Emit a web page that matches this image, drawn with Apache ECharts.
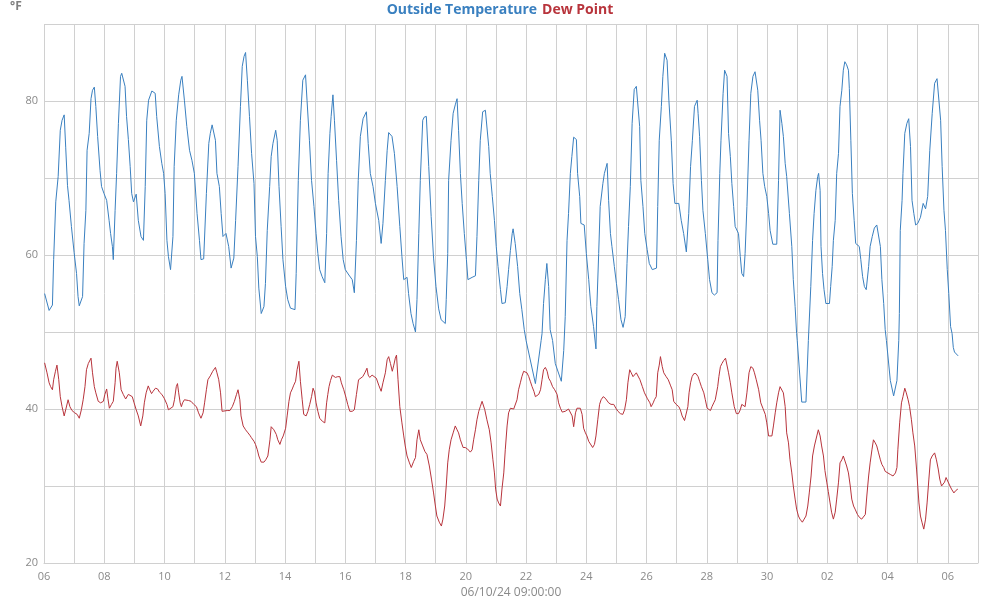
<!DOCTYPE html>
<html><head><meta charset="utf-8">
<script src="https://cdn.jsdelivr.net/npm/echarts@6/dist/echarts.min.js"></script>
<style>html,body{margin:0;padding:0;background:#fff}#c{width:1000px;height:600px}</style>
</head><body><div id="c"></div>
<script>
// x = days since first tick; labels every 2 days
const dayLabels = ['06','08','10','12','14','16','18','20','22','24','26','28','30','02','04','06'];
const yTicks = [20, 40, 60, 80];
const xAxisTitle = '06/10/24 09:00:00';
const unitLabel = '°F';
const seriesNames = ['Outside Temperature', 'Dew Point'];

const outsideTemp = [
[0.02,55.0],[0.17,52.8],[0.28,53.5],[0.32,59.4],[0.39,66.9],[0.47,70.2],[0.54,76.2],[0.6,77.5],[0.67,78.2],[0.72,74],[0.78,69],[0.83,67.1],[0.91,63.7],
[1.0,60.3],[1.08,57.6],[1.13,54.6],[1.17,53.4],[1.28,54.6],[1.33,61.5],[1.39,65.8],[1.43,73.6],[1.5,75.8],[1.56,80.3],[1.61,81.4],[1.67,81.8],[1.72,79.3],[1.78,75.4],[1.86,71],[1.91,68.9],[1.99,68],
[2.08,67.1],[2.16,64.5],[2.21,62.8],[2.27,61.1],[2.3,59.4],[2.36,65.8],[2.41,70.6],[2.47,77.1],[2.54,83.2],[2.58,83.6],[2.69,81.9],[2.74,78],[2.8,75],[2.86,71.5],[2.91,68],[2.97,66.9],
[3.06,67.9],[3.13,64.5],[3.22,62.4],[3.3,61.9],[3.36,68.9],[3.41,77.5],[3.47,80.1],[3.58,81.3],[3.69,81],[3.74,78],[3.83,74.1],[3.91,71.9],[3.97,70.6],
[4.02,68],[4.08,61.9],[4.13,59.8],[4.2,58.1],[4.28,62.4],[4.32,71.5],[4.39,77.5],[4.47,80.8],[4.54,82.7],[4.58,83.2],[4.66,80.1],[4.74,76.7],[4.83,73.6],[4.91,72.3],[4.99,70.6],
[5.08,65.4],[5.16,61.9],[5.21,59.4],[5.3,59.5],[5.39,68],[5.47,74.5],[5.52,75.8],[5.58,76.9],[5.69,74.9],[5.74,70.6],[5.82,68.9],[5.88,65.4],[5.94,62.4],
[6.04,62.8],[6.13,61.1],[6.21,58.3],[6.3,59.6],[6.36,64.5],[6.44,71.5],[6.52,79.3],[6.58,84.5],[6.64,85.8],[6.69,86.3],[6.75,82.7],[6.82,78],[6.89,73.2],[6.97,69.3],
[7.02,62.4],[7.08,59.8],[7.13,55.7],[7.21,52.4],[7.3,53.3],[7.35,56.3],[7.41,63.2],[7.49,68.9],[7.54,72.8],[7.6,74.5],[7.69,76.2],[7.74,74.9],[7.8,68.9],[7.87,63.7],[7.93,59.4],
[8.02,55.9],[8.09,54.2],[8.18,53.1],[8.33,52.9],[8.37,57.6],[8.44,69.7],[8.51,77.5],[8.59,82.7],[8.68,83.4],[8.73,80.1],[8.81,74.9],[8.88,69.7],[8.96,66.3],
[9.03,62.8],[9.09,60.2],[9.15,58.1],[9.23,57.2],[9.32,56.4],[9.38,62.8],[9.43,70.6],[9.49,75.8],[9.53,78],[9.59,80.8],[9.64,77.5],[9.71,72.3],[9.78,67.1],[9.86,62.4],[9.93,59.4],
[10.0,58.1],[10.12,57.4],[10.23,56.8],[10.3,55.1],[10.37,61.9],[10.43,69.7],[10.5,75.4],[10.59,77.7],[10.7,78.6],[10.76,74.5],[10.83,70.6],[10.92,68.9],
[11.0,66.7],[11.11,64.5],[11.19,61.5],[11.25,64.1],[11.33,69.7],[11.39,73.6],[11.44,75.9],[11.55,75.4],[11.63,73.2],[11.72,68.9],[11.81,63.7],[11.88,59.8],[11.94,56.8],
[12.05,57.1],[12.1,55],[12.18,52.4],[12.25,51.1],[12.33,50],[12.38,54.2],[12.44,62.8],[12.49,69.7],[12.57,77.5],[12.62,77.9],[12.69,78],[12.77,71.5],[12.85,65],[12.93,59.6],
[13.01,55.9],[13.1,53],[13.18,51.6],[13.32,51.1],[13.35,54.2],[13.4,60.2],[13.43,69.7],[13.51,74.9],[13.58,78.4],[13.65,79.5],[13.71,80.3],[13.76,76.2],[13.82,70.6],[13.88,66.7],[13.95,62.8],
[14.02,59.4],[14.07,56.8],[14.21,57.1],[14.32,57.3],[14.37,62.4],[14.43,69.7],[14.48,74.9],[14.56,78.6],[14.65,78.8],[14.7,79],[14.76,74.1],[14.81,70.6],[14.88,67.6],[14.95,64.5],
[15.01,61.1],[15.07,58.5],[15.15,55.5],[15.2,53.7],[15.31,53.8],[15.37,55.9],[15.42,58.1],[15.48,60.6],[15.54,62.8],[15.57,63.4],[15.64,61.5],[15.72,58.5],[15.79,55],[15.86,52.9],[15.94,50.3],
[16.0,48.9],[16.31,43.3],[16.5,48.9],[16.53,49.8],[16.58,53.7],[16.64,56.8],[16.69,58.9],[16.75,55.9],[16.8,50.3],[16.88,48.9],[16.97,45.9],
[17.17,43.6],[17.25,47.6],[17.3,52],[17.36,61.9],[17.41,65.4],[17.47,70.6],[17.52,72.8],[17.58,75.3],[17.67,75],[17.71,70.6],[17.78,67.6],[17.82,64.1],[17.93,63.9],
[18.0,60.2],[18.08,56.8],[18.15,53.3],[18.24,50.7],[18.32,47.8],[18.35,53.3],[18.41,60.2],[18.46,66.3],[18.55,69.3],[18.6,70.6],[18.69,71.9],[18.74,67.1],[18.8,62.8],[18.85,61.1],[18.93,58.5],
[19.0,56.3],[19.07,54.2],[19.15,51.6],[19.22,50.6],[19.29,52],[19.35,58.9],[19.4,63.7],[19.46,68.9],[19.52,77.1],[19.59,81.5],[19.66,81.9],[19.71,81.9],[19.77,76.7],[19.81,69.7],[19.88,66.3],[19.94,62.8],
[20.02,60.7],[20.09,58.9],[20.19,58.1],[20.33,58.3],[20.37,66.3],[20.42,74.9],[20.49,79.3],[20.54,83.2],[20.6,86.2],[20.68,85.3],[20.74,80.1],[20.82,74.9],[20.88,69.3],[20.94,66.7],
[21.07,66.7],[21.15,64.5],[21.23,62.8],[21.32,60.4],[21.4,65.4],[21.46,71.5],[21.52,74.9],[21.59,79.3],[21.68,80.1],[21.71,78.4],[21.76,75.4],[21.82,69.7],[21.87,65.8],[21.95,62.8],
[22.03,59.4],[22.09,56.8],[22.17,55.1],[22.25,54.8],[22.34,55.1],[22.37,61.9],[22.43,70.6],[22.47,74.9],[22.54,81],[22.59,84],[22.67,83.2],[22.72,75.8],[22.78,72.8],[22.83,69.3],[22.89,66.3],[22.94,63.7],
[23.0,63.5],[23.05,62.8],[23.11,59.8],[23.16,57.6],[23.22,57.2],[23.27,60.2],[23.33,66.3],[23.4,74.9],[23.46,81],[23.53,83.2],[23.6,83.8],[23.66,84],[23.69,81.4],[23.75,77.5],[23.8,74.9],[23.86,70.6],[23.92,68.9],[23.99,67.6],
[24.05,65.4],[24.1,63.2],[24.19,61.4],[24.32,61.4],[24.38,69.7],[24.43,78.8],[24.49,77.1],[24.54,75.4],[24.6,71.9],[24.65,70.2],[24.74,65.4],[24.82,61.1],[24.87,56.8],[24.93,53.3],[24.98,49.8],
[25.0,48.9],[25.15,40.9],[25.29,40.9],[25.37,48.9],[25.45,55.9],[25.51,61.9],[25.56,65.4],[25.62,68.4],[25.68,70.2],[25.71,70.6],[25.76,68.4],[25.79,61.1],[25.84,57.6],[25.89,55.5],[25.95,53.7],
[26.0,53.7],[26.07,53.7],[26.11,55.9],[26.16,58.5],[26.2,61.9],[26.26,64.5],[26.31,70.6],[26.37,73.2],[26.42,79.3],[26.48,81.4],[26.53,84],[26.58,85.1],[26.64,84.7],[26.7,84],[26.73,81.6],[26.78,74.9],[26.83,68],[26.89,64.5],[26.94,61.5],
[27.06,61.1],[27.11,59.4],[27.17,57.2],[27.23,55.9],[27.29,55.5],[27.37,58.5],[27.42,61.1],[27.49,62.4],[27.56,63.5],[27.64,63.9],[27.7,64.1],[27.76,61.1],[27.81,56.8],[27.87,53.7],[27.92,50.3],[27.96,48.9],
[28.09,43.7],[28.2,41.7],[28.31,43.7],[28.37,48.9],[28.39,52.4],[28.42,63.2],[28.48,67.1],[28.51,70.6],[28.57,75.8],[28.64,77.1],[28.7,77.7],[28.76,74.1],[28.81,67.1],[28.87,65.4],[28.93,63.9],
[29.0,64.1],[29.09,64.9],[29.18,66.7],[29.26,66],[29.33,67.6],[29.4,73.6],[29.48,78.4],[29.56,82.3],[29.64,82.9],[29.7,82.7],[29.76,77.5],[29.81,71.5],[29.87,65.8],[29.92,63.2],[29.98,58.1],
[30.03,55],[30.09,50.7],[30.14,49.8],[30.18,48],[30.22,47.4],[30.34,46.9]
];

const dewPoint = [
[0.02,46],[0.1,44.7],[0.17,43.4],[0.22,42.9],[0.28,42.5],[0.32,43.8],[0.38,44.9],[0.43,45.7],[0.49,43.8],[0.54,41.6],[0.6,40.3],[0.67,39.1],[0.72,39.9],[0.8,41.2],[0.86,40.3],[0.93,39.8],
[1.02,39.5],[1.1,39.3],[1.17,38.8],[1.24,39.9],[1.3,41.2],[1.36,42.9],[1.41,45.1],[1.47,45.9],[1.56,46.6],[1.61,44.7],[1.67,42.9],[1.72,42.1],[1.8,41],[1.88,40.8],[1.97,41],
[2.02,41.9],[2.08,42.6],[2.12,41.4],[2.17,40.1],[2.24,40.6],[2.3,41],[2.36,43.4],[2.39,45.3],[2.43,46.2],[2.5,44.7],[2.56,42.5],[2.63,41.9],[2.71,41.3],[2.8,41.9],[2.86,41.7],[2.93,41.6],[2.99,40.8],
[3.06,39.9],[3.13,39.1],[3.21,37.8],[3.28,39.1],[3.33,40.8],[3.39,42.1],[3.46,43],[3.51,42.5],[3.57,42],[3.62,42.3],[3.7,42.7],[3.77,42.6],[3.83,42.2],[3.91,41.9],[3.99,41.4],
[4.08,40.6],[4.13,39.9],[4.19,39.9],[4.28,40.3],[4.33,41.2],[4.39,42.9],[4.43,43.3],[4.47,42.1],[4.52,40.8],[4.56,40.3],[4.6,40.8],[4.66,41.2],[4.71,41.4],[4.8,41.1],[4.88,41],[4.97,40.6],
[5.06,40.3],[5.13,39.5],[5.21,38.8],[5.28,39.5],[5.33,40.8],[5.39,42.5],[5.44,43.8],[5.52,44.3],[5.6,44.9],[5.69,45.4],[5.74,44.7],[5.8,43.8],[5.86,42.1],[5.91,39.7],[5.97,39.9],
[6.08,39.8],[6.17,39.8],[6.25,40.3],[6.32,41],[6.39,41.9],[6.44,42.5],[6.5,41.2],[6.54,39.1],[6.61,37.8],[6.69,37.3],[6.77,36.9],[6.83,36.6],[6.88,36.3],[6.97,35.8],
[7.02,35.4],[7.08,34.7],[7.13,33.9],[7.21,33.1],[7.3,33.1],[7.36,33.4],[7.43,33.9],[7.5,36],[7.54,37.7],[7.63,37.3],[7.71,36.7],[7.76,36],[7.83,35.4],[7.88,36],[7.94,36.5],
[8.02,37.5],[8.07,39.1],[8.13,41],[8.18,42.1],[8.24,42.6],[8.29,43.1],[8.35,43.6],[8.4,45.1],[8.46,46.2],[8.51,43.6],[8.57,41.2],[8.62,39.3],[8.7,39.1],[8.76,39.7],[8.82,40.6],[8.88,41.6],[8.93,42.7],[8.98,42.2],
[9.03,40.8],[9.09,39.7],[9.15,38.8],[9.24,38.4],[9.32,38.2],[9.38,40.8],[9.42,41.9],[9.46,42.9],[9.51,43.7],[9.57,44.4],[9.67,44.1],[9.75,44.2],[9.82,44.2],[9.87,43.4],[9.95,42.5],
[10.03,41.4],[10.08,40.6],[10.15,39.7],[10.23,39.7],[10.3,39.9],[10.37,41.9],[10.44,43.8],[10.5,44],[10.58,44.2],[10.65,44.7],[10.72,45.3],[10.76,44.4],[10.81,44.1],[10.89,44.4],[10.94,44.3],
[11.03,44],[11.11,43.1],[11.19,42.3],[11.25,43.4],[11.33,44.7],[11.39,46.4],[11.44,46.8],[11.5,45.9],[11.56,44.9],[11.61,45.7],[11.66,46.6],[11.7,47],[11.75,43.8],[11.81,40.3],[11.88,38.2],[11.94,36.5],[11.99,35.2],
[12.05,33.9],[12.13,33],[12.19,32.4],[12.27,33.2],[12.33,33.7],[12.38,36],[12.44,37.3],[12.49,36],[12.57,35.2],[12.64,34.5],[12.71,34.1],[12.79,32.6],[12.86,30.9],[12.93,29.1],[12.99,27.4],
[13.04,26.1],[13.12,25.3],[13.19,24.8],[13.24,25.7],[13.3,27.4],[13.35,30],[13.4,33],[13.45,34.7],[13.51,36],[13.58,36.9],[13.65,37.8],[13.71,37.3],[13.76,36.9],[13.82,36],[13.91,35],[13.98,35],
[14.06,34.8],[14.15,34.4],[14.21,34.7],[14.26,36],[14.32,37.3],[14.37,38.6],[14.43,39.7],[14.48,40.3],[14.54,41],[14.57,41.1],[14.63,39.9],[14.7,38.6],[14.78,37.3],[14.84,35.6],[14.9,33.4],[14.95,31.7],[14.99,29.6],
[15.04,28.3],[15.09,27.8],[15.15,27.4],[15.2,29.6],[15.26,31.7],[15.31,34.7],[15.37,37.8],[15.42,39.5],[15.48,40.1],[15.53,40.3],[15.59,40],[15.64,39.8],[15.7,41.2],[15.75,42.5],[15.81,43.4],[15.86,44.2],[15.92,44.9],[15.98,45.1],
[16.03,44.7],[16.09,44.2],[16.14,43.6],[16.2,42.9],[16.26,42.3],[16.31,41.6],[16.37,41.7],[16.42,41.9],[16.48,42.5],[16.53,43.8],[16.58,45.1],[16.64,45.4],[16.7,44.9],[16.75,44],[16.81,43.6],[16.88,42.9],[16.95,42.5],
[17.03,41.9],[17.08,40.8],[17.14,40.1],[17.2,39.6],[17.25,39.5],[17.3,39.7],[17.36,39.9],[17.41,40],[17.47,39.9],[17.53,39.1],[17.58,37.7],[17.64,39.5],[17.69,40.1],[17.75,40.3],[17.8,40.1],[17.86,39.3],[17.91,37.5],[17.97,36.9],
[18.02,36.5],[18.08,35.8],[18.14,35.6],[18.21,35],[18.27,35.4],[18.32,36.5],[18.38,38.6],[18.44,40.6],[18.49,41.2],[18.56,41.6],[18.63,41.4],[18.69,41.3],[18.74,40.8],[18.82,40.6],[18.91,40.6],[18.98,40.1],
[19.05,39.7],[19.13,39.4],[19.21,39.3],[19.27,39.9],[19.33,41.2],[19.38,43.4],[19.44,45.1],[19.49,44.7],[19.55,44.2],[19.6,44.4],[19.66,44.7],[19.71,44.5],[19.78,43.8],[19.86,42.9],[19.93,42.1],
[20.02,41.4],[20.11,40.8],[20.15,40.3],[20.22,40.8],[20.26,41.2],[20.32,41.6],[20.37,44.7],[20.42,45.7],[20.46,46.8],[20.52,45.5],[20.57,44.7],[20.65,44.2],[20.72,43.8],[20.79,43.1],[20.85,42.5],[20.9,41],[20.98,40.6],
[21.07,40.3],[21.12,39.9],[21.18,39.1],[21.26,38.5],[21.32,38.5],[21.37,40.3],[21.41,42.1],[21.46,43.4],[21.51,44.2],[21.57,44.6],[21.64,44.6],[21.71,44.2],[21.76,43.6],[21.82,42.9],[21.9,42.1],[21.95,41.2],
[22.01,40.1],[22.06,39.9],[22.12,39.8],[22.17,40.3],[22.23,40.8],[22.28,41.2],[22.36,42.9],[22.4,44.2],[22.45,45.5],[22.5,45.9],[22.56,46.3],[22.62,46.6],[22.67,46.8],[22.72,44.7],[22.78,43.4],[22.83,42.1],[22.91,40.3],[22.98,39.4],
[23.05,39.4],[23.11,39.9],[23.16,40.6],[23.22,40.8],[23.27,40.3],[23.33,42.1],[23.4,44.7],[23.46,45.5],[23.53,45.3],[23.58,44.7],[23.64,43.8],[23.72,42.5],[23.79,40.8],[23.86,40.1],[23.94,39.3],[23.99,38.2],
[24.05,36.5],[24.1,36.5],[24.16,36.5],[24.21,37.8],[24.27,39.5],[24.32,40.8],[24.38,42.1],[24.43,42.9],[24.49,42.7],[24.54,42.1],[24.6,40.3],[24.65,36.9],[24.71,35.6],[24.76,33.4],[24.82,31.7],[24.87,30],[24.93,28.3],[24.98,27],
[25.04,26.1],[25.09,25.7],[25.17,25.3],[25.23,25.7],[25.29,26.1],[25.35,27.4],[25.4,29.1],[25.46,31.3],[25.51,33.9],[25.57,35.2],[25.65,36.5],[25.7,37.3],[25.76,36.5],[25.81,35.2],[25.87,33.9],[25.92,32],[25.98,30.5],
[26.03,29.3],[26.09,27.8],[26.14,26.6],[26.2,25.7],[26.26,26.6],[26.31,28.3],[26.37,30.5],[26.42,33],[26.48,33.4],[26.53,33.9],[26.59,34.1],[26.64,32.6],[26.7,31.7],[26.76,30],[26.81,28.3],[26.87,27.4],[26.92,27],
[27.0,26.3],[27.07,25.9],[27.14,25.7],[27.2,25.5],[27.26,26.3],[27.31,28.7],[27.37,31.3],[27.42,33],[27.48,34.7],[27.53,36],[27.59,35.6],[27.64,35.2],[27.7,34.3],[27.76,33.4],[27.81,32.8],[27.87,32.4],[27.92,31.9],[27.98,31.7],
[28.09,31.5],[28.18,31.3],[28.26,31.7],[28.31,32.4],[28.34,34.7],[28.4,38.2],[28.46,40.8],[28.51,41.6],[28.57,42.7],[28.62,42.1],[28.68,41.2],[28.73,40.3],[28.79,38.6],[28.84,36.9],[28.9,35.2],[28.96,32.2],
[29.0,30],[29.04,27.8],[29.09,26.1],[29.14,25.3],[29.2,24.4],[29.26,25.7],[29.31,27.8],[29.37,30.9],[29.42,33.4],[29.48,33.9],[29.56,34.3],[29.62,33.4],[29.68,32.2],[29.73,30.9],[29.79,30],[29.84,29.8],[29.89,30.5],[29.94,31.1],
[30.0,30.9],[30.07,30],[30.12,29.6],[30.2,29.1],[30.26,29.4],[30.33,29.6]
];

const blue = '#3a80c0', red = '#b8343c', grid = '#d0d0d0', txt = '#8a8a8a';
const font = '"Open Sans", "Noto Sans", sans-serif';
const chart = echarts.init(document.getElementById('c'), null, {renderer: 'canvas'});
chart.setOption({
  animation: false,
  backgroundColor: '#fff',
  title: [{
    text: '{a|' + seriesNames[0] + '} {b|' + seriesNames[1] + '}',
    left: 'center', top: 1, padding: 0,
    textStyle: { rich: {
      a: { color: blue, fontSize: 14, fontWeight: 'bold', fontFamily: font },
      b: { color: red, fontSize: 14, fontWeight: 'bold', fontFamily: font }
    }}
  }, {
    text: unitLabel, left: 10, top: 1, padding: 0,
    textStyle: { color: '#808080', fontSize: 12, fontWeight: 'bold', fontFamily: font }
  }],
  grid: { left: 44, right: 22, top: 24, bottom: 37, containLabel: false, outerBoundsMode: 'none' },
  xAxis: {
    type: 'value', min: 0, max: 31, interval: 1,
    name: xAxisTitle, nameLocation: 'middle', nameGap: 24,
    nameTextStyle: { color: txt, fontSize: 12, fontFamily: font },
    axisLine: { show: true, lineStyle: { color: grid } },
    axisTick: { show: false },
    axisLabel: { color: txt, fontSize: 11, fontFamily: font, margin: 8,
      formatter: v => (v % 2 === 0 && v / 2 < dayLabels.length) ? dayLabels[v / 2] : '' },
    splitLine: { show: true, lineStyle: { color: grid, width: 1 } }
  },
  yAxis: {
    type: 'value', min: 20, max: 90, interval: 10,
    axisLine: { show: false }, axisTick: { show: false },
    axisLabel: { color: txt, fontSize: 11, fontFamily: font, margin: 6,
      formatter: v => yTicks.indexOf(v) >= 0 ? String(v) : '' },
    splitLine: { show: true, lineStyle: { color: grid, width: 1 } }
  },
  series: [
    { name: seriesNames[0], type: 'line', data: outsideTemp, showSymbol: false, symbol: 'none',
      lineStyle: { color: blue, width: 1 }, itemStyle: { color: blue } },
    { name: seriesNames[1], type: 'line', data: dewPoint, showSymbol: false, symbol: 'none',
      lineStyle: { color: red, width: 1 }, itemStyle: { color: red } }
  ]
});
</script></body></html>
